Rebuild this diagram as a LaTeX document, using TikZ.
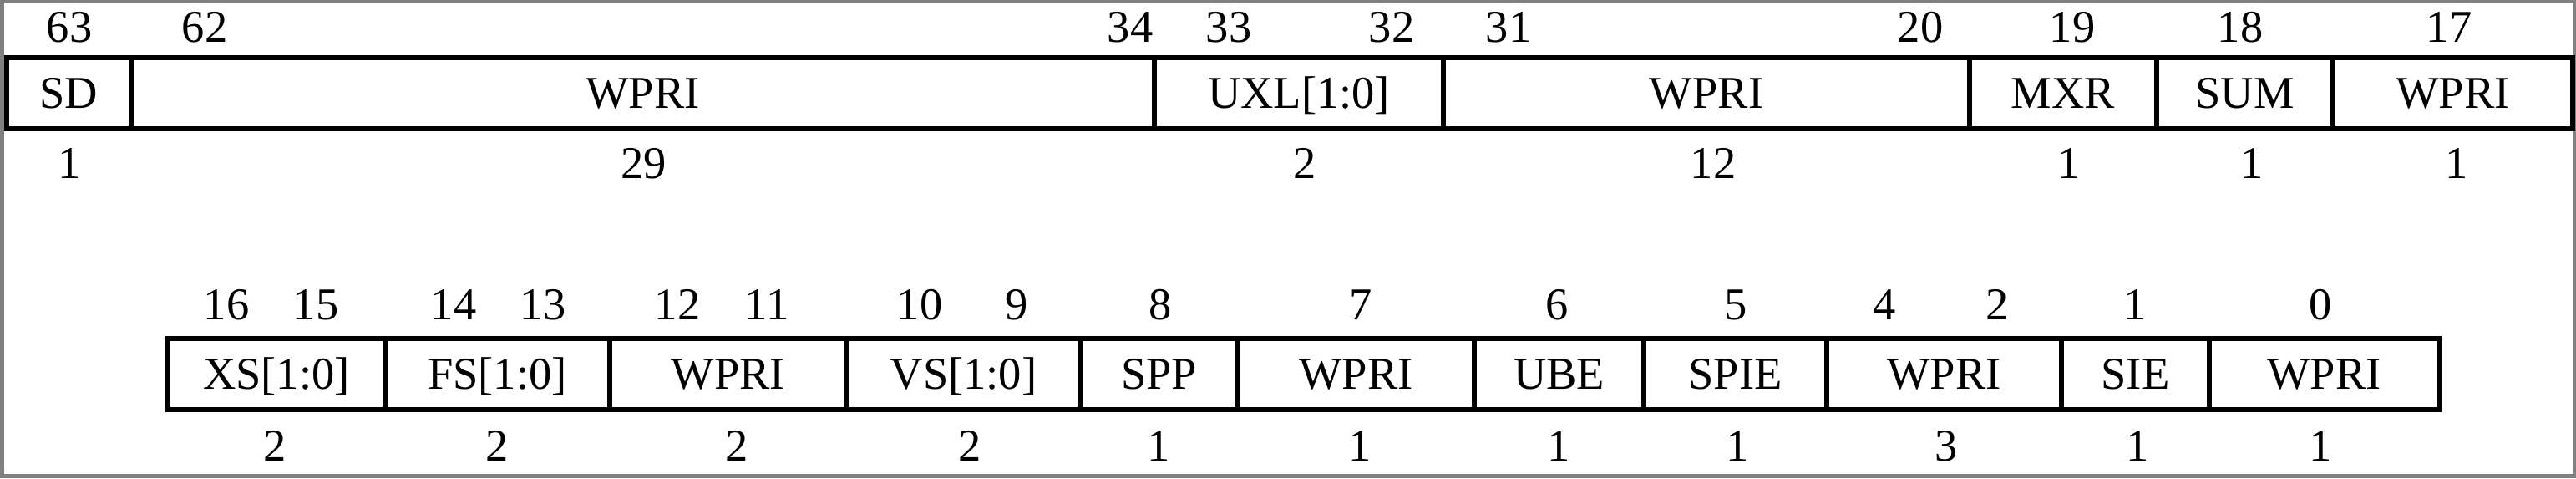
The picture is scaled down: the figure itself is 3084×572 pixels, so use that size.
\documentclass[tikz,border=0pt]{standalone}
\usepackage{fontspec}
\setmainfont{Liberation Serif}
\usepackage{tikz}
\usetikzlibrary{positioning,calc}
\definecolor{framegray}{RGB}{128,128,128}

\begin{document}
\begin{tikzpicture}[x=0.01cm, y=-0.01cm, line width=1.7pt, font=\fontsize{15.5}{18}\selectfont]
		\tikzstyle{field}=[draw=black,rectangle,inner sep=0pt,outer sep=0pt,
		text height=0.36cm,text depth=0cm]
		\tikzstyle{upper}=[field,minimum height=0.84cm]
		\tikzstyle{lower}=[field,minimum height=0.85cm]
		\tikzstyle{bitno}=[inner sep=0pt,anchor=base]
		
		\useasboundingbox (0,0) rectangle (3084,572);
		\fill [framegray] (0,0) rectangle (3084,572);
		\fill [white] (5,3) rectangle (3081,567);
		
		% upper row, bits 63..17
		\node [upper, minimum width=1.49cm] (sd) at (82.5,111.5) {SD};
		\node [upper, minimum width=12.25cm] (wpriA) at (769.5,111.5) {WPRI};
		\node [upper, minimum width=3.46cm] (uxl) at (1555,111.5) {UXL[1:0]};
		\node [upper, minimum width=6.30cm] (wpriB) at (2043,111.5) {WPRI};
		\node [upper, minimum width=2.24cm] (mxr) at (2470,111.5) {MXR};
		\node [upper, minimum width=2.11cm] (sum) at (2687.5,111.5) {SUM};
		\node [upper, minimum width=2.87cm] (wpriC) at (2936.5,111.5) {WPRI};
		
		\node [bitno] (n63) at (83,50) {63}; \node [bitno] (n62) at (245,50) {62};
		\node [bitno] (n34) at (1353,50) {34}; \node [bitno] (n33) at (1471,50) {33};
		\node [bitno] (n32) at (1666,50) {32}; \node [bitno] (n31) at (1806,50) {31};
		\node [bitno] (n20) at (2299,50) {20}; \node [bitno] (n19) at (2481,50) {19};
		\node [bitno] (n18) at (2682,50) {18}; \node [bitno] (n17) at (2932,50) {17};
		
		\node [bitno] (wsd) at ($(sd.south)+(1,60)$) {1};
		\node [bitno] (wwpriA) at ($(wpriA.south)+(1,60)$) {29};
		\node [bitno] (wuxl) at ($(uxl.south)+(7,60)$) {2};
		\node [bitno] (wwpriB) at ($(wpriB.south)+(8,60)$) {12};
		\node [bitno] (wmxr) at ($(mxr.south)+(7,60)$) {1};
		\node [bitno] (wsum) at ($(sum.south)+(9,60)$) {1};
		\node [bitno] (wwpriC) at ($(wpriC.south)+(5,60)$) {1};
		
		% lower row, bits 16..0
		\node [lower, minimum width=2.60cm] (xs) at (331,447.5) {XS[1:0]};
		\node [lower, minimum width=2.69cm] (fs) at (595.5,447.5) {FS[1:0]};
		\node [lower, minimum width=2.84cm] (wpriD) at (872,447.5) {WPRI};
		\node [lower, minimum width=2.79cm] (vs) at (1153.5,447.5) {VS[1:0]};
		\node [lower, minimum width=1.89cm] (spp) at (1387.5,447.5) {SPP};
		\node [lower, minimum width=2.83cm] (wpriE) at (1623.5,447.5) {WPRI};
		\node [lower, minimum width=2.03cm] (ube) at (1866.5,447.5) {UBE};
		\node [lower, minimum width=2.19cm] (spie) at (2077.5,447.5) {SPIE};
		\node [lower, minimum width=2.81cm] (wpriF) at (2327.5,447.5) {WPRI};
		\node [lower, minimum width=1.77cm] (sie) at (2556.5,447.5) {SIE};
		\node [lower, minimum width=2.75cm] (wpriG) at (2782.5,447.5) {WPRI};
		
		\node [bitno] (n16) at (271,382) {16}; \node [bitno] (n15) at (378,382) {15};
		\node [bitno] (n14) at (543,382) {14}; \node [bitno] (n13) at (650,382) {13};
		\node [bitno] (n12) at (811,382) {12}; \node [bitno] (n11) at (918,382) {11};
		\node [bitno] (n10) at (1101,382) {10}; \node [bitno] (n9) at (1217,382) {9};
		\node [bitno] (n8) at (1389,382) {8}; \node [bitno] (n7) at (1629,382) {7};
		\node [bitno] (n6) at (1864,382) {6}; \node [bitno] (n5) at (2078,382) {5};
		\node [bitno] (n4) at (2256,382) {4}; \node [bitno] (n2) at (2391,382) {2};
		\node [bitno] (n1) at (2556,382) {1}; \node [bitno] (n0) at (2778,382) {0};
		
		\node [bitno] (wxs) at ($(xs.south)+(-2,61)$) {2};
		\node [bitno] (wfs) at ($(fs.south)+(0,61)$) {2};
		\node [bitno] (wwpriD) at ($(wpriD.south)+(10,61)$) {2};
		\node [bitno] (wvs) at ($(vs.south)+(8,61)$) {2};
		\node [bitno] (wspp) at ($(spp.south)+(0,61)$) {1};
		\node [bitno] (wwpriE) at ($(wpriE.south)+(5,61)$) {1};
		\node [bitno] (wube) at ($(ube.south)+(0,61)$) {1};
		\node [bitno] (wspie) at ($(spie.south)+(3,61)$) {1};
		\node [bitno] (wwpriF) at ($(wpriF.south)+(3,61)$) {3};
		\node [bitno] (wsie) at ($(sie.south)+(3,61)$) {1};
		\node [bitno] (wwpriG) at ($(wpriG.south)+(-4,61)$) {1};
	\end{tikzpicture}
\end{document}
